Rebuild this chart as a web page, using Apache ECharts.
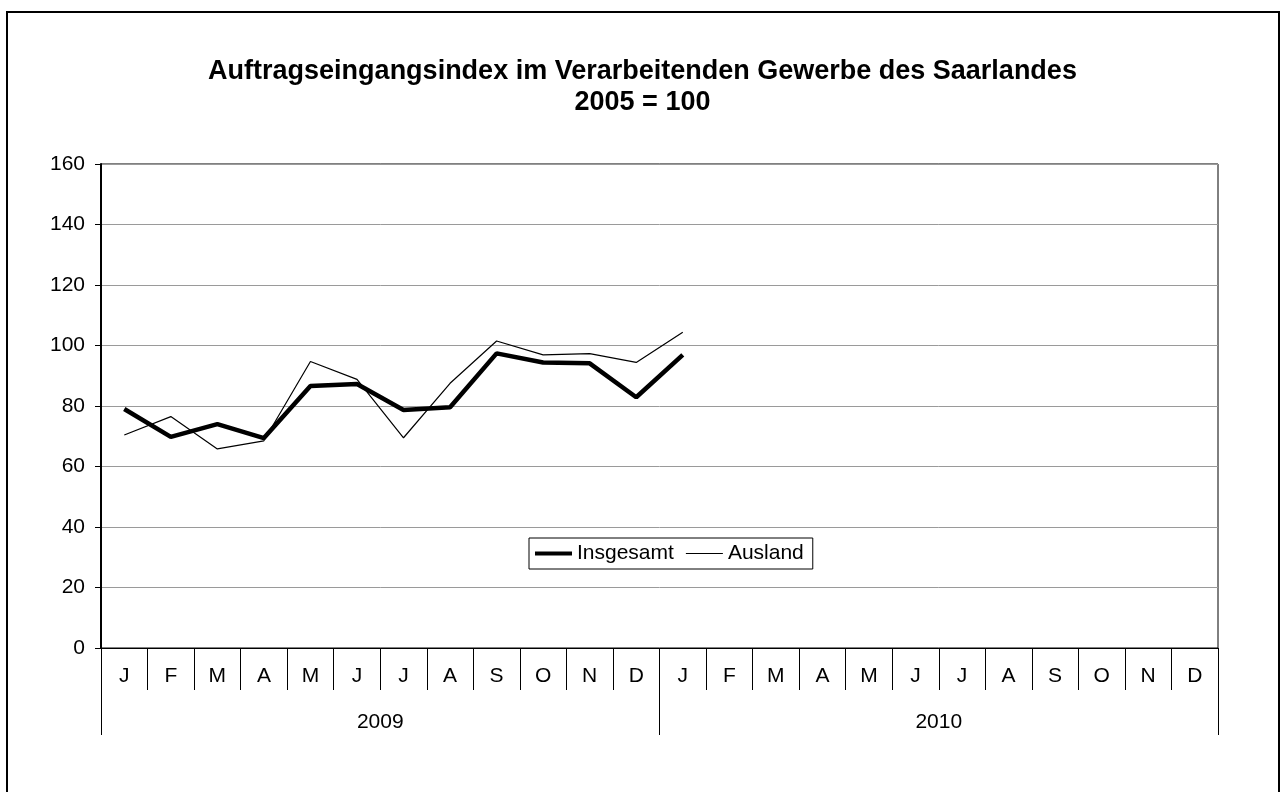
<!doctype html>
<html>
<head>
<meta charset="UTF-8">
<title>Auftragseingangsindex</title>
<script src="https://cdn.jsdelivr.net/npm/echarts@6/dist/echarts.min.js"></script>
<style>
	html, body { margin: 0; padding: 0; background: #fff; }
	#chart { width: 1285px; height: 792px; }
</style>
</head>
<body>
<div id="chart"></div>
<script>
	var months = ['J','F','M','A','M','J','J','A','S','O','N','D','J','F','M','A','M','J','J','A','S','O','N','D'];
	var years = ['2009', '2010'];
	// Jan 2009 .. Jan 2010
	var insgesamt = [79.0, 69.8, 74.0, 69.4, 86.6, 87.3, 78.7, 79.6, 97.4, 94.4, 94.1, 82.9, 96.9];
	var ausland = [70.4, 76.5, 65.8, 68.5, 94.7, 88.8, 69.5, 87.5, 101.5, 96.9, 97.3, 94.4, 104.4];

	var font = '"Liberation Sans", Arial, sans-serif';
	var chart = echarts.init(document.getElementById('chart'));

	chart.setOption({
		animation: false,
		backgroundColor: '#fff',
		textStyle: { fontFamily: font, color: '#000' },
		title: {
			text: 'Auftragseingangsindex im Verarbeitenden Gewerbe des Saarlandes\n2005 = 100',
			left: 'center',
			top: 51,
			textStyle: { fontFamily: font, fontSize: 27, fontWeight: 'bold', color: '#000', lineHeight: 31 }
		},
		graphic: [{
			type: 'rect',
			shape: { x: 7, y: 12, width: 1272, height: 820 },
			style: { fill: 'none', stroke: '#000', lineWidth: 2 },
			silent: true
		}],
		legend: {
			left: 529,
			top: 538,
			data: [
				{ name: 'Insgesamt', icon: 'path://M0,0H37V4H0Z' },
				{ name: 'Ausland', icon: 'path://M0,0H37V1.2H0Z' }
			],
			borderColor: '#000',
			borderWidth: 1,
			padding: [5, 9, 5, 6],
			itemWidth: 37,
			itemHeight: 14,
			itemGap: 12,
			textStyle: { fontFamily: font, fontSize: 21, color: '#000' }
		},
		grid: {
			left: 101, right: 67, top: 164, bottom: 144,
			show: true, borderColor: '#000', borderWidth: 1,
			containLabel: false
		},
		xAxis: [{
			type: 'category',
			data: months,
			position: 'bottom',
			axisLine: { lineStyle: { color: '#000', width: 1 } },
			axisTick: { show: true, interval: 0, length: 42, lineStyle: { color: '#000' } },
			axisLabel: { interval: 0, margin: 18, fontSize: 21, color: '#000', fontFamily: font }
		}, {
			type: 'category',
			data: years,
			position: 'bottom',
			axisLine: { show: false },
			axisTick: { show: true, interval: 0, length: 87, lineStyle: { color: '#000' } },
			axisLabel: { interval: 0, margin: 64, fontSize: 21, color: '#000', fontFamily: font }
		}],
		yAxis: {
			type: 'value',
			min: 0,
			max: 160,
			interval: 20,
			axisLine: { show: true, lineStyle: { color: '#000', width: 2 } },
			axisTick: { show: true, length: 6, lineStyle: { color: '#000' } },
			axisLabel: { margin: 16, fontSize: 21, color: '#000', fontFamily: font },
			splitLine: { lineStyle: { color: '#9a9a9a', width: 1 } }
		},
		series: [{
			name: 'Insgesamt',
			type: 'line',
			xAxisIndex: 0,
			data: insgesamt,
			symbol: 'none',
			color: '#000',
			lineStyle: { color: '#000', width: 4.5 }
		}, {
			name: 'Ausland',
			type: 'line',
			xAxisIndex: 0,
			data: ausland,
			symbol: 'none',
			color: '#000',
			lineStyle: { color: '#000', width: 1.2 }
		}]
	});
</script>
</body>
</html>
